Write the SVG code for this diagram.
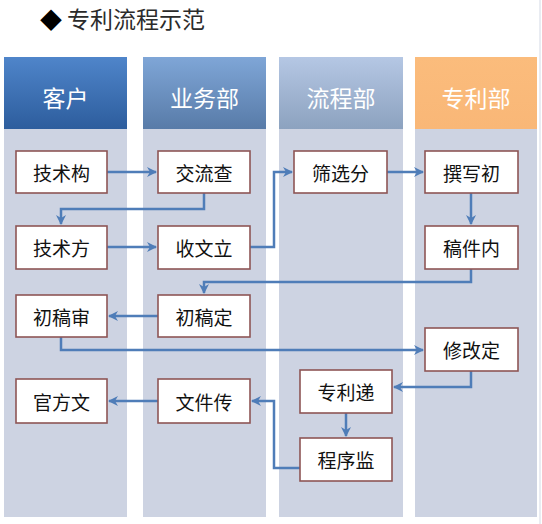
<svg xmlns="http://www.w3.org/2000/svg" width="542" height="524" viewBox="0 0 542 524">
<style>
.lane{fill:#cdd3e2}
.node rect{fill:#ffffff;stroke:#8e5555;stroke-width:1.6}
.node text{font-family:"Noto Sans CJK SC","Noto Sans CJK JP",sans-serif;font-size:19px;fill:#111;text-anchor:middle;dominant-baseline:central}
.hd text{font-family:"Noto Sans CJK SC",sans-serif;font-size:23px;fill:#ffffff;text-anchor:middle;dominant-baseline:central}
.conn path{fill:none;stroke:#4f7db8;stroke-width:2.5;marker-end:url(#ah)}
</style>
<defs>
<marker id="ah" viewBox="0 0 10 10" refX="9" refY="5" markerWidth="4" markerHeight="4" orient="auto" markerUnits="strokeWidth">
<path d="M0,0 L10,5 L0,10 L3,5 Z" fill="#4f7db8"/>
</marker>
<linearGradient id="g1" x1="0" y1="0" x2="0" y2="1"><stop offset="0" stop-color="#4f85ca"/><stop offset="1" stop-color="#2d5d9d"/></linearGradient>
<linearGradient id="g2" x1="0" y1="0" x2="0" y2="1"><stop offset="0" stop-color="#7fa6d7"/><stop offset="1" stop-color="#587ba8"/></linearGradient>
<linearGradient id="g3" x1="0" y1="0" x2="0" y2="1"><stop offset="0" stop-color="#b5c7e4"/><stop offset="1" stop-color="#8ca2bf"/></linearGradient>
<linearGradient id="g4" x1="0" y1="0" x2="0" y2="1"><stop offset="0" stop-color="#fbbc7c"/><stop offset="1" stop-color="#f9b777"/></linearGradient>
</defs>
<rect width="542" height="524" fill="#ffffff"/>
<line x1="540" y1="0" x2="540" y2="524" stroke="#e2e6ee" stroke-width="1.5"/>
<g id="title">
<text x="40" y="28" font-family="Noto Sans CJK SC,sans-serif" font-size="22" fill="#000">◆</text>
<text x="67" y="28" font-family="Noto Sans CJK SC,sans-serif" font-size="23" fill="#2b2b2b">专利流程示范</text>
</g>
<g id="lanes">
<rect class="lane" x="4" y="129" width="123" height="388"/>
<rect class="lane" x="143" y="129" width="123" height="388"/>
<rect class="lane" x="279" y="129" width="124" height="388"/>
<rect class="lane" x="415" y="129" width="122" height="388"/>
</g>
<g id="h1" class="hd"><rect x="4" y="57" width="123" height="72" fill="url(#g1)"/><text x="65.5" y="97">客户</text></g>
<g id="h2" class="hd"><rect x="143" y="57" width="123" height="72" fill="url(#g2)"/><text x="204.5" y="97">业务部</text></g>
<g id="h3" class="hd"><rect x="279" y="57" width="124" height="72" fill="url(#g3)"/><text x="341" y="97">流程部</text></g>
<g id="h4" class="hd"><rect x="415" y="57" width="122" height="72" fill="url(#g4)"/><text x="476" y="97">专利部</text></g>
<g class="conn" id="connectors">
<path d="M107,172 H156"/>
<path d="M204,193 V209 H61 V224"/>
<path d="M107,247 H156"/>
<path d="M250,247 H274 V172 H292"/>
<path d="M387,172 H423"/>
<path d="M471,193 V224"/>
<path d="M471,269 V282 H204 V293"/>
<path d="M158,316 H109"/>
<path d="M61,337 V350 H423"/>
<path d="M471,371 V387 H394"/>
<path d="M346,413 V436"/>
<path d="M300,468 H274 V401 H252"/>
<path d="M158,401 H109"/>
</g>
<g class="node" id="n1"><rect x="16" y="151" width="91" height="42"/><text x="61.5" y="172">技术构</text></g>
<g class="node" id="n2"><rect x="158" y="151" width="92" height="42"/><text x="204" y="172">交流查</text></g>
<g class="node" id="n3"><rect x="294" y="151" width="93" height="42"/><text x="340.5" y="172">筛选分</text></g>
<g class="node" id="n4"><rect x="425" y="151" width="93" height="42"/><text x="471.5" y="172">撰写初</text></g>
<g class="node" id="n5"><rect x="16" y="226" width="91" height="43"/><text x="61.5" y="247.5">技术方</text></g>
<g class="node" id="n6"><rect x="158" y="226" width="92" height="43"/><text x="204" y="247.5">收文立</text></g>
<g class="node" id="n7"><rect x="425" y="226" width="93" height="43"/><text x="471.5" y="247.5">稿件内</text></g>
<g class="node" id="n8"><rect x="16" y="295" width="91" height="42"/><text x="61.5" y="316">初稿审</text></g>
<g class="node" id="n9"><rect x="158" y="295" width="92" height="42"/><text x="204" y="316">初稿定</text></g>
<g class="node" id="n10"><rect x="425" y="328" width="93" height="43"/><text x="471.5" y="349.5">修改定</text></g>
<g class="node" id="n11"><rect x="300" y="370" width="92" height="43"/><text x="346" y="391.5">专利递</text></g>
<g class="node" id="n12"><rect x="16" y="379" width="91" height="44"/><text x="61.5" y="401">官方文</text></g>
<g class="node" id="n13"><rect x="158" y="379" width="92" height="44"/><text x="204" y="401">文件传</text></g>
<g class="node" id="n14"><rect x="300" y="438" width="92" height="43"/><text x="346" y="459.5">程序监</text></g>
</svg>
